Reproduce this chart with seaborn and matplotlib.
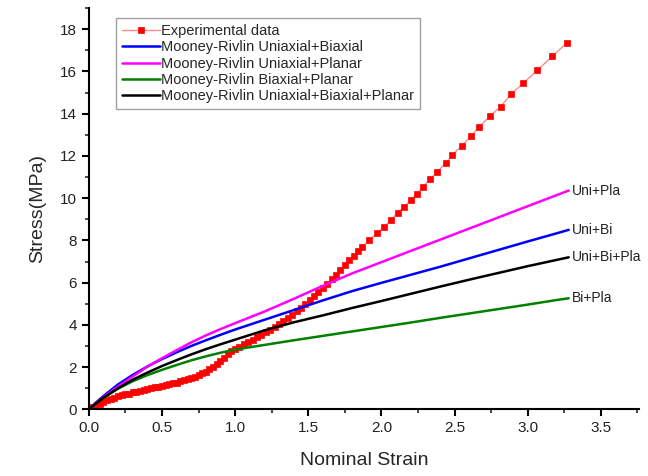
import numpy as np
import seaborn as sns
import matplotlib
matplotlib.use("Agg")
import matplotlib.pyplot as plt
from matplotlib.ticker import MultipleLocator, AutoMinorLocator

# ---------------- data ----------------
exp_strain = [0.000, 0.025, 0.050, 0.075, 0.100, 0.125, 0.150, 0.175, 0.200, 0.225,
              0.250, 0.275, 0.300, 0.325, 0.350, 0.375, 0.400, 0.425, 0.450, 0.475,
              0.500, 0.525, 0.550, 0.575, 0.600, 0.625, 0.650, 0.675, 0.700, 0.725,
              0.750, 0.775, 0.800, 0.825, 0.850, 0.875, 0.900, 0.925, 0.950, 0.975,
              1.000, 1.030, 1.060, 1.090, 1.120, 1.150, 1.180, 1.210, 1.240, 1.270,
              1.300, 1.330, 1.360, 1.390, 1.420, 1.450, 1.480, 1.510, 1.540, 1.570,
              1.600, 1.630, 1.660, 1.690, 1.720, 1.750, 1.780, 1.810, 1.840, 1.870,
              1.917, 1.973, 2.020, 2.065, 2.110, 2.155, 2.200, 2.246, 2.285, 2.333,
              2.383, 2.440, 2.485, 2.550, 2.610, 2.667, 2.740, 2.815, 2.887, 2.970,
              3.065, 3.167, 3.270]
exp_stress = [0.00, 0.09, 0.18, 0.27, 0.36, 0.43, 0.50, 0.56, 0.61, 0.66,
              0.71, 0.75, 0.80, 0.84, 0.88, 0.92, 0.96, 1.00, 1.04, 1.07,
              1.11, 1.15, 1.19, 1.23, 1.27, 1.32, 1.37, 1.42, 1.48, 1.55,
              1.62, 1.70, 1.79, 1.89, 2.00, 2.13, 2.28, 2.44, 2.60, 2.76,
              2.85, 2.97, 3.08, 3.19, 3.30, 3.41, 3.53, 3.65, 3.77, 3.90,
              4.04, 4.19, 4.34, 4.49, 4.65, 4.81, 4.98, 5.16, 5.35, 5.55,
              5.75, 5.95, 6.16, 6.38, 6.60, 6.83, 7.05, 7.27, 7.49, 7.70,
              8.02, 8.34, 8.65, 8.97, 9.29, 9.60, 9.89, 10.20, 10.55, 10.90,
              11.26, 11.66, 12.05, 12.48, 12.92, 13.36, 13.87, 14.34, 14.93, 15.45,
              16.05, 16.71, 17.37]

fit_strain = [0.0, 0.05, 0.1, 0.2, 0.3, 0.4, 0.5, 0.6, 0.7, 0.8, 0.9, 1.0,
              1.2, 1.4, 1.6, 1.8, 2.0, 2.2, 2.4, 2.6, 2.8, 3.0, 3.2, 3.28]
uni_bi = [0.0, 0.33, 0.63, 1.18, 1.63, 2.03, 2.38, 2.70, 3.00, 3.27, 3.53, 3.78,
          4.24, 4.70, 5.16, 5.60, 5.99, 6.37, 6.75, 7.15, 7.55, 7.95, 8.34, 8.50]
uni_pla = [0.0, 0.30, 0.58, 1.08, 1.55, 2.02, 2.42, 2.80, 3.17, 3.50, 3.80, 4.08,
           4.63, 5.23, 5.85, 6.44, 6.97, 7.50, 8.03, 8.56, 9.09, 9.62, 10.15, 10.36]
bi_pla = [0.0, 0.28, 0.54, 0.98, 1.33, 1.62, 1.87, 2.10, 2.32, 2.51, 2.68, 2.83,
          3.05, 3.27, 3.48, 3.69, 3.90, 4.11, 4.33, 4.54, 4.75, 4.96, 5.18, 5.26]
uni_bi_pla = [0.0, 0.28, 0.55, 1.00, 1.40, 1.74, 2.05, 2.33, 2.60, 2.85, 3.08, 3.30,
              3.74, 4.12, 4.45, 4.80, 5.13, 5.47, 5.81, 6.14, 6.46, 6.78, 7.08, 7.20]

fits = [
    ("Mooney-Rivlin Uniaxial+Biaxial", uni_bi, "#0000ff", "Uni+Bi"),
    ("Mooney-Rivlin Uniaxial+Planar", uni_pla, "#ff00ff", "Uni+Pla"),
    ("Mooney-Rivlin Biaxial+Planar", bi_pla, "#008000", "Bi+Pla"),
    ("Mooney-Rivlin Uniaxial+Biaxial+Planar", uni_bi_pla, "#000000", "Uni+Bi+Pla"),
]

# ---------------- plot ----------------
sns.set_style("ticks")
plt.rcParams['font.family'] = ['Liberation Sans', 'DejaVu Sans']

fig = plt.figure(figsize=(6.48, 4.76), dpi=100)
ax = fig.add_axes([0.137, 0.140, 0.849, 0.843])

sns.lineplot(x=exp_strain, y=exp_stress, ax=ax, sort=False, estimator=None,
             color="#ff8c8c", linewidth=1.0, marker="s", markersize=5,
             markerfacecolor="red", markeredgecolor="red", markeredgewidth=0.5,
             label="Experimental data", zorder=2)

for name, vals, col, short in fits:
    sns.lineplot(x=fit_strain, y=vals, ax=ax, sort=False, estimator=None,
                 color=col, linewidth=1.8, label=name, zorder=3)
    ax.text(fit_strain[-1] + 0.025, vals[-1], short, fontsize=10,
            va="center", ha="left", color='#222222')

ax.set_xlim(0, 3.76)
ax.set_ylim(0, 19)
ax.xaxis.set_major_locator(MultipleLocator(0.5))
ax.xaxis.set_minor_locator(AutoMinorLocator(2))
ax.yaxis.set_major_locator(MultipleLocator(2))
ax.yaxis.set_minor_locator(AutoMinorLocator(2))
ax.xaxis.set_major_formatter(plt.FormatStrFormatter('%.1f'))

for s in ['top', 'right']:
    ax.spines[s].set_visible(False)
for s in ['left', 'bottom']:
    ax.spines[s].set_linewidth(1.5)
    ax.spines[s].set_color('black')

ax.tick_params(which='major', direction='out', length=5, width=1.5,
               labelsize=11, colors='black', labelcolor='#222222')
ax.tick_params(which='minor', direction='out', length=3, width=1.2)

ax.set_xlabel("Nominal Strain", fontsize=14, labelpad=12)
ax.set_ylabel("Stress(MPa)", fontsize=14, labelpad=10)

leg = ax.legend(loc="upper left", bbox_to_anchor=(0.05, 0.975), borderaxespad=0,
                fontsize=10.5, frameon=True, fancybox=False, handlelength=2.6,
                handletextpad=0.1, labelspacing=0.16, borderpad=0.4)
leg.get_frame().set_edgecolor('#888888')
leg.get_frame().set_linewidth(1.0)

fig.savefig("out.png", dpi=100)
